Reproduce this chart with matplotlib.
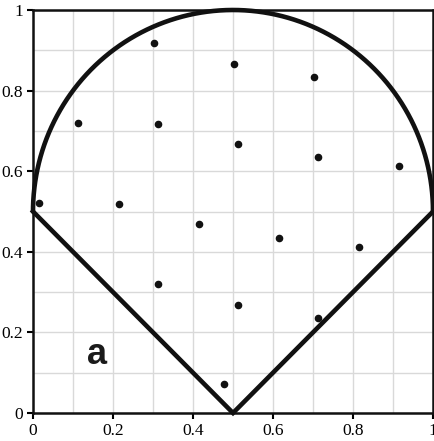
import numpy as np
import matplotlib.pyplot as plt

plt.rcParams['font.family'] = ['Liberation Serif', 'DejaVu Serif']

# sample points inside the region
px = [0.015, 0.1125, 0.3025, 0.3125, 0.5025, 0.5125, 0.7025, 0.7125, 0.915,
      0.215, 0.415, 0.615, 0.815, 0.3125, 0.5125, 0.7125, 0.4775]
py = [0.521, 0.720, 0.918, 0.717, 0.866, 0.667, 0.834, 0.635, 0.613,
      0.519, 0.469, 0.434, 0.412, 0.320, 0.268, 0.236, 0.072]

# region boundary: upper half-disc on top of a V
center = (0.5, 0.5)
radius = 0.5
apex = (0.5, 0.0)

fig = plt.figure(figsize=(4.35, 4.41), dpi=100)
ax = fig.add_axes([33 / 435, 28 / 441, 400 / 435, 403 / 441])

t = np.linspace(0, np.pi, 400)
ax.plot(center[0] + radius * np.cos(t), center[1] + radius * np.sin(t),
        color="#111111", lw=3.3, clip_on=False, zorder=3, solid_capstyle="round")
ax.plot([center[0] - radius, apex[0], center[0] + radius],
        [center[1], apex[1], center[1]],
        color="#111111", lw=3.3, clip_on=False, zorder=3, solid_joinstyle="miter")
ax.scatter(px, py, s=20, color="#111111", zorder=4)

ax.text(0.16, 0.144, "a", fontsize=26, fontweight="bold", family="Liberation Sans",
        ha="center", va="center", color="#1a1a1a")

ax.set_xlim(0, 1)
ax.set_ylim(0, 1)
ax.set_xticks(np.arange(0, 1.01, 0.1), minor=True)
ax.set_yticks(np.arange(0, 1.01, 0.1), minor=True)
ax.set_xticks([0, 0.2, 0.4, 0.6, 0.8, 1])
ax.set_yticks([0, 0.2, 0.4, 0.6, 0.8, 1])
ax.set_xticklabels(["0", "0.2", "0.4", "0.6", "0.8", "1"])
ax.set_yticklabels(["0", "0.2", "0.4", "0.6", "0.8", "1"])
ax.grid(True, which="both", color="#d9d9d9", lw=1.0)
ax.set_axisbelow(True)
ax.tick_params(which="major", direction="out", length=4, width=1.5, pad=3,
               labelsize=12.5)
ax.tick_params(which="minor", length=0)
for s in ax.spines.values():
    s.set_linewidth(1.8)
    s.set_color("#111111")

fig.savefig("out.png", dpi=100)
